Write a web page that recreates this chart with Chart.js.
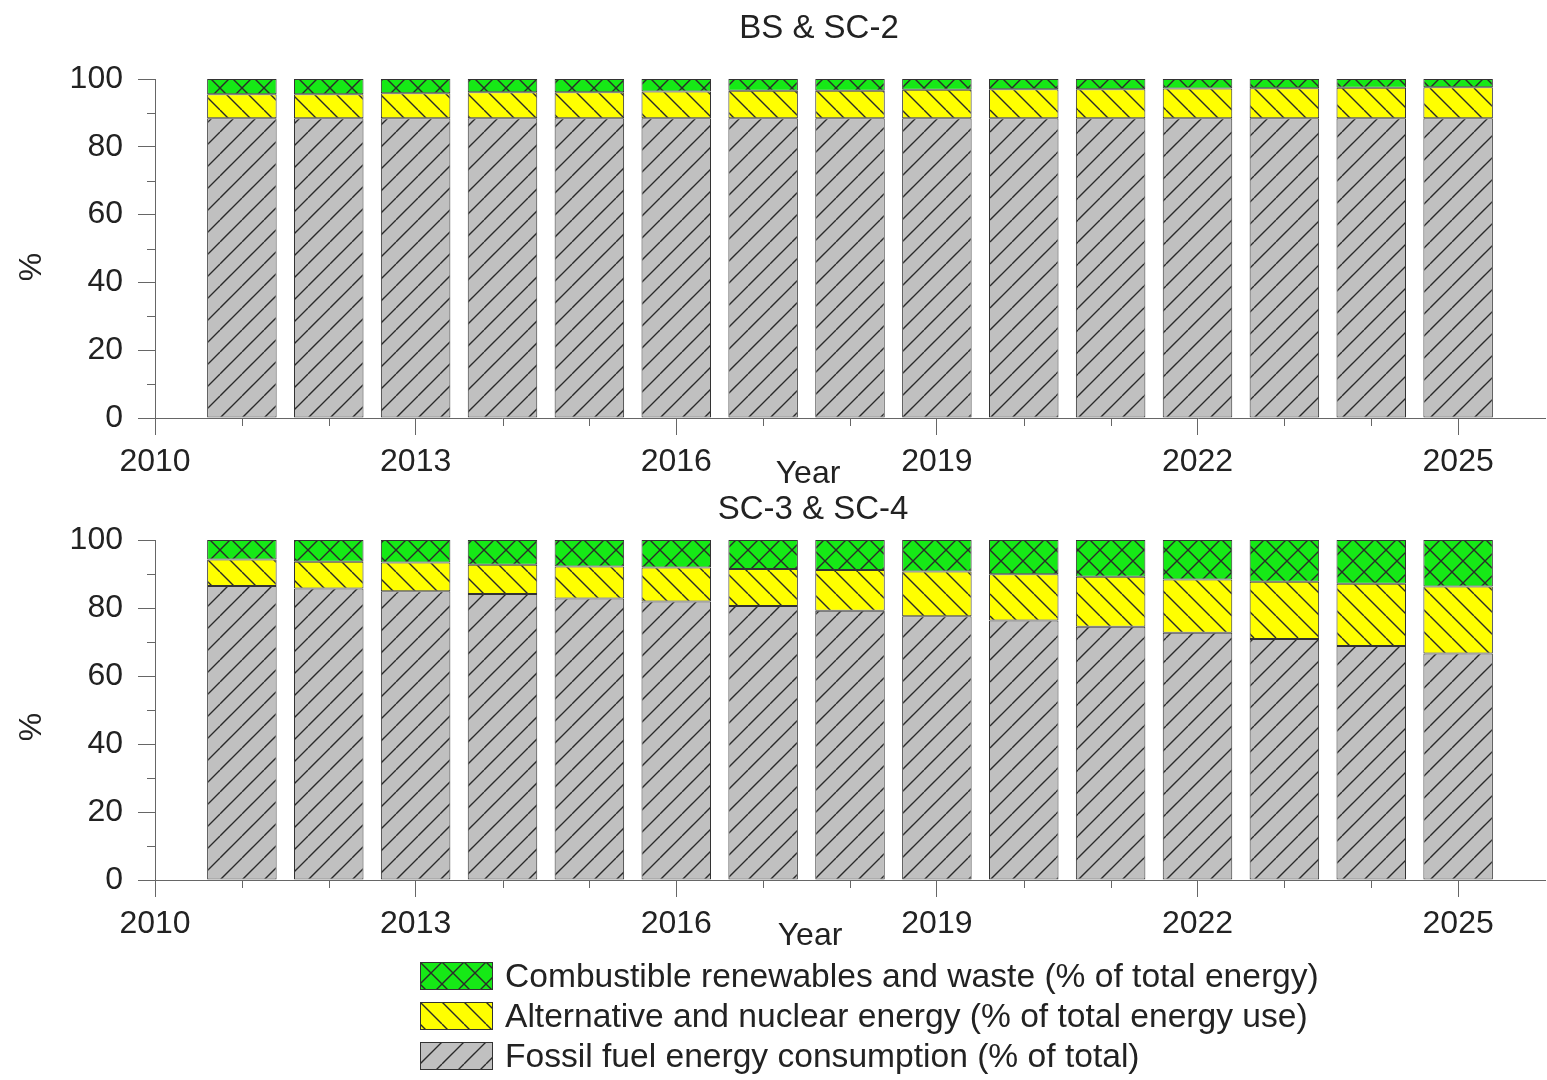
<!DOCTYPE html>
<html>
<head>
<meta charset="utf-8">
<title>Energy mix by scenario</title>
<script src="https://cdn.jsdelivr.net/npm/chart.js@4.4.1/dist/chart.umd.min.js"></script>
<style>
  html, body { margin: 0; padding: 0; background: #fff; }
  #wrap { position: relative; width: 1547px; height: 1080px; overflow: hidden;
          font-family: "Liberation Sans", Arial, Helvetica, sans-serif; }
  .layer { position: absolute; left: 0; top: 0; width: 1547px; height: 1080px; }
  #legend { position: absolute; left: 420px; top: 956px; }
  .row { display: flex; align-items: center; height: 40px; }
  .row canvas { display: block; }
  .row span { margin-left: 12px; font-size: 33.6px; color: #222; white-space: nowrap; }
</style>
</head>
<body>
<div id="wrap">
  <div class="layer"><canvas id="chartTop"></canvas></div>
  <div class="layer"><canvas id="chartBottom"></canvas></div>
  <div id="legend"></div>
</div>
<script>
// ---- data ----
const years = [2011, 2012, 2013, 2014, 2015, 2016, 2017, 2018, 2019, 2020, 2021, 2022, 2023, 2024, 2025];
const xTickYears = [2010, 2013, 2016, 2019, 2022, 2025];
const xMinorYears = [2011, 2012, 2014, 2015, 2017, 2018, 2020, 2021, 2023, 2024];
const yTickValues = [0, 20, 40, 60, 80, 100];
const yMinorValues = [10, 30, 50, 70, 90];

const seriesNames = [
  'Fossil fuel energy consumption (% of total)',
  'Alternative and nuclear energy (% of total energy use)',
  'Combustible renewables and waste (% of total energy)'
];

// BS & SC-2
const fossilTop      = [88.4, 88.4, 88.4, 88.4, 88.4, 88.4, 88.4, 88.4, 88.4, 88.4, 88.4, 88.4, 88.4, 88.4, 88.4];
const alternativeTop = [7.1, 7.1, 7.4, 7.7, 7.7, 7.9, 8.1, 8.1, 8.4, 8.6, 8.6, 8.8, 8.9, 9.0, 9.2];
const combustibleTop = [4.5, 4.5, 4.2, 3.9, 3.9, 3.7, 3.5, 3.5, 3.2, 3.0, 3.0, 2.8, 2.7, 2.6, 2.4];

// SC-3 & SC-4
const fossilBottom      = [86.5, 85.7, 84.9, 84.1, 82.8, 81.9, 80.6, 79.2, 77.6, 76.3, 74.5, 72.7, 70.9, 68.8, 66.6];
const alternativeBottom = [7.8, 7.9, 8.5, 8.6, 9.4, 10.0, 10.9, 12.0, 13.1, 13.6, 14.7, 15.7, 16.8, 18.3, 19.7];
const combustibleBottom = [5.7, 6.4, 6.6, 7.3, 7.8, 8.1, 8.5, 8.8, 9.3, 10.1, 10.8, 11.6, 12.3, 12.9, 13.7];

// ---- styling helpers ----
const FONT = '"Liberation Sans", Arial, Helvetica, sans-serif';
const AXIS_COLOR = '#666';
const TEXT_COLOR = '#222';

// Hatched fills: 'fwd' = ////, 'back' = \\\\, 'cross' = xxxx
function hatch(bg, kind) {
  const p = 22;
  const tile = document.createElement('canvas');
  tile.width = p; tile.height = p;
  const g = tile.getContext('2d');
  g.fillStyle = bg;
  g.fillRect(0, 0, p, p);
  g.strokeStyle = '#2a2a2a';
  g.lineWidth = 1.4;
  g.beginPath();
  if (kind === 'fwd' || kind === 'cross') {
    for (const k of [-1, 0, 1]) { g.moveTo(k * p, p); g.lineTo(k * p + p, 0); }
  }
  if (kind === 'back' || kind === 'cross') {
    for (const k of [-1, 0, 1]) { g.moveTo(k * p, 0); g.lineTo(k * p + p, p); }
  }
  g.stroke();
  return document.createElement('canvas').getContext('2d').createPattern(tile, 'repeat');
}

const fills = [
  hatch('#c0c0c0', 'fwd'),
  hatch('#ffff00', 'back'),
  hatch('#16e916', 'cross')
];

// Short minor tick marks outside the plot frame
const minorTicks = {
  id: 'minorTicks',
  afterDraw(chart) {
    const { ctx, scales: { x, y } } = chart;
    const len = 8;
    ctx.save();
    ctx.strokeStyle = AXIS_COLOR;
    ctx.lineWidth = 1;
    ctx.beginPath();
    for (const v of xMinorYears) {
      const px = Math.round(x.getPixelForValue(v)) + 0.5;
      ctx.moveTo(px, y.bottom);
      ctx.lineTo(px, y.bottom + len);
    }
    for (const v of yMinorValues) {
      const py = Math.round(y.getPixelForValue(v)) + 0.5;
      ctx.moveTo(x.left, py);
      ctx.lineTo(x.left - len, py);
    }
    ctx.stroke();
    ctx.restore();
  }
};

// Panel title and axis titles
const panelText = {
  id: 'panelText',
  afterDraw(chart, args, opts) {
    const ctx = chart.ctx;
    ctx.save();
    ctx.fillStyle = TEXT_COLOR;
    ctx.textAlign = 'center';
    ctx.textBaseline = 'alphabetic';
    for (const item of opts.items) {
      ctx.font = item.size + 'px ' + FONT;
      ctx.save();
      ctx.translate(item.x, item.y);
      if (item.rotate) ctx.rotate(item.rotate);
      ctx.fillText(item.text, 0, item.size * 0.36);
      ctx.restore();
    }
    ctx.restore();
  }
};

function makeChart(canvasId, fossil, alternative, combustible, area, title, titlePos, yearPos, pctPos) {
  const series = [fossil, alternative, combustible];
  const datasets = series.map((vals, i) => ({
    label: seriesNames[i],
    data: years.map((yr, j) => ({ x: yr, y: vals[j] })),
    backgroundColor: fills[i],
    borderColor: '#333',
    borderWidth: 1,
    borderSkipped: false,
    barPercentage: 0.8,
    categoryPercentage: 1.0
  }));
  const gridCommon = { drawOnChartArea: false, drawTicks: true, tickLength: 17, color: AXIS_COLOR, lineWidth: 1, offset: false };
  const borderCommon = { display: true, color: AXIS_COLOR, width: 1 };
  return new Chart(document.getElementById(canvasId), {
    type: 'bar',
    data: { datasets },
    options: {
      responsive: true,
      maintainAspectRatio: false,
      animation: false,
      events: [],
      layout: { padding: { left: 0, right: 2, top: area.top, bottom: 1080 - area.bottom - 60 } },
      plugins: {
        legend: { display: false },
        tooltip: { enabled: false },
        panelText: {
          items: [
            { text: title, x: titlePos[0], y: titlePos[1], size: 33 },
            { text: 'Year', x: yearPos[0], y: yearPos[1], size: 32 },
            { text: '%', x: pctPos[0], y: pctPos[1], size: 32, rotate: -Math.PI / 2 }
          ]
        }
      },
      scales: {
        x: {
          type: 'linear',
          min: 2010,
          max: 2026,
          stacked: true,
          offset: false,
          grid: gridCommon,
          border: borderCommon,
          afterBuildTicks: s => { s.ticks = xTickYears.map(v => ({ value: v })); },
          afterFit: s => { s.height = 60; },
          ticks: {
            autoSkip: false, maxRotation: 0, padding: 8,
            color: TEXT_COLOR, font: { family: FONT, size: 32 },
            callback: v => String(v)
          }
        },
        y: {
          min: 0,
          max: 100,
          stacked: true,
          grid: gridCommon,
          border: borderCommon,
          afterBuildTicks: s => { s.ticks = yTickValues.map(v => ({ value: v })); },
          afterFit: s => { s.width = 155; },
          ticks: {
            padding: 15,
            color: TEXT_COLOR, font: { family: FONT, size: 32 },
            callback: v => String(v)
          }
        }
      }
    },
    plugins: [minorTicks, panelText]
  });
}

makeChart('chartTop', fossilTop, alternativeTop, combustibleTop,
  { top: 79, bottom: 418 }, 'BS & SC-2', [819, 26], [808, 471], [29, 267]);
makeChart('chartBottom', fossilBottom, alternativeBottom, combustibleBottom,
  { top: 540, bottom: 880 }, 'SC-3 & SC-4', [813, 507], [810, 933], [29, 727]);

// Legend (top to bottom: combustible, alternative, fossil)
const legend = document.getElementById('legend');
[2, 1, 0].forEach(i => {
  const row = document.createElement('div');
  row.className = 'row';
  const sw = document.createElement('canvas');
  sw.width = 73; sw.height = 28;
  const g = sw.getContext('2d');
  g.fillStyle = fills[i];
  g.fillRect(0, 0, 73, 28);
  g.strokeStyle = '#333';
  g.lineWidth = 1;
  g.strokeRect(0.5, 0.5, 72, 27);
  const label = document.createElement('span');
  label.textContent = seriesNames[i];
  row.appendChild(sw);
  row.appendChild(label);
  legend.appendChild(row);
});
</script>
</body>
</html>
